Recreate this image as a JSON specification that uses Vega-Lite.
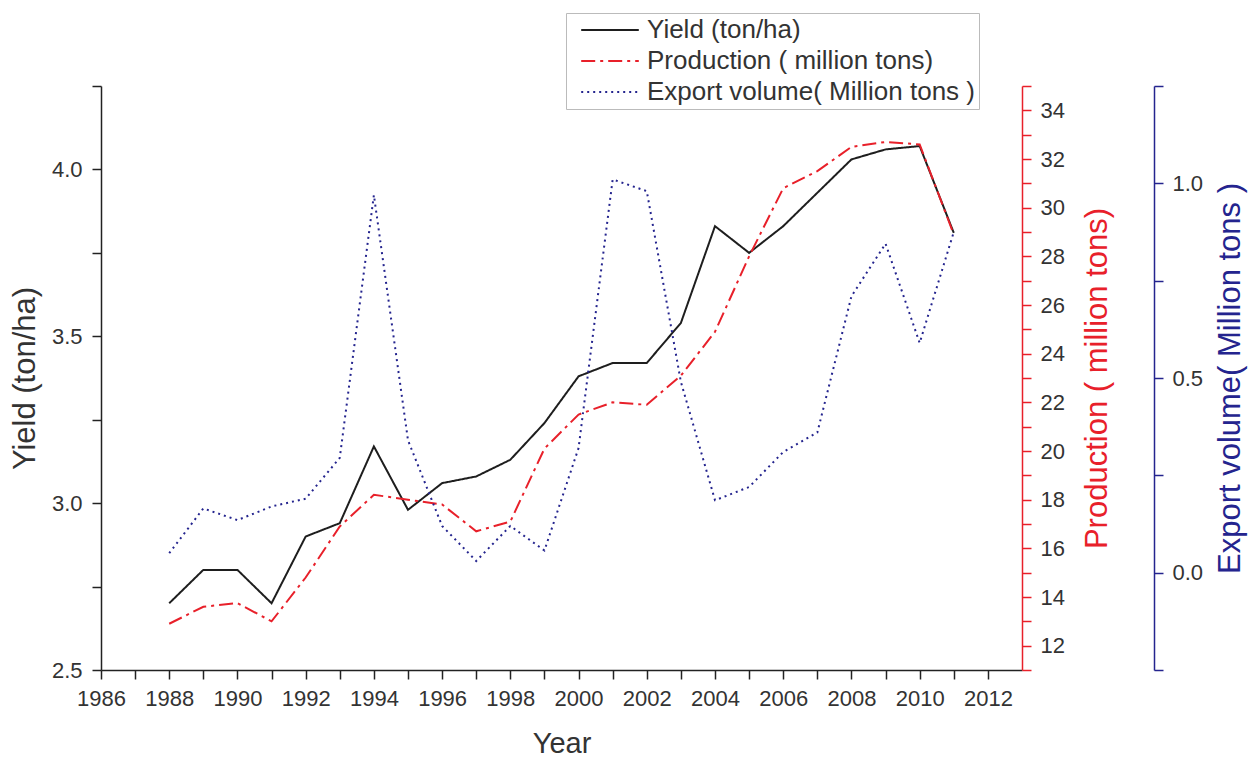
{
  "$schema": "https://vega.github.io/schema/vega-lite/v6.json",
  "width": 921,
  "height": 584,
  "autosize": {"type": "none"},
  "padding": {"left": 101, "top": 86, "right": 231, "bottom": 90},
  "background": "white",
  "config": {
    "font": "Liberation Sans",
    "view": {"stroke": null},
    "axis": {
      "grid": false,
      "labelFontSize": 22,
      "labelColor": "#333",
      "labelOverlap": false,
      "labelFlush": false,
      "titleFontSize": 31,
      "titleFontWeight": "normal",
      "titleColor": "#333",
      "domainWidth": 1.5,
      "tickWidth": 1.5,
      "tickSize": 9
    }
  },
  "data": {
    "values": [
      {"year": 1988, "series": "Yield (ton/ha)", "value": 2.70},
      {"year": 1989, "series": "Yield (ton/ha)", "value": 2.80},
      {"year": 1990, "series": "Yield (ton/ha)", "value": 2.80},
      {"year": 1991, "series": "Yield (ton/ha)", "value": 2.70},
      {"year": 1992, "series": "Yield (ton/ha)", "value": 2.90},
      {"year": 1993, "series": "Yield (ton/ha)", "value": 2.94},
      {"year": 1994, "series": "Yield (ton/ha)", "value": 3.17},
      {"year": 1995, "series": "Yield (ton/ha)", "value": 2.98},
      {"year": 1996, "series": "Yield (ton/ha)", "value": 3.06},
      {"year": 1997, "series": "Yield (ton/ha)", "value": 3.08},
      {"year": 1998, "series": "Yield (ton/ha)", "value": 3.13},
      {"year": 1999, "series": "Yield (ton/ha)", "value": 3.24},
      {"year": 2000, "series": "Yield (ton/ha)", "value": 3.38},
      {"year": 2001, "series": "Yield (ton/ha)", "value": 3.42},
      {"year": 2002, "series": "Yield (ton/ha)", "value": 3.42},
      {"year": 2003, "series": "Yield (ton/ha)", "value": 3.54},
      {"year": 2004, "series": "Yield (ton/ha)", "value": 3.83},
      {"year": 2005, "series": "Yield (ton/ha)", "value": 3.75},
      {"year": 2006, "series": "Yield (ton/ha)", "value": 3.83},
      {"year": 2007, "series": "Yield (ton/ha)", "value": 3.93},
      {"year": 2008, "series": "Yield (ton/ha)", "value": 4.03},
      {"year": 2009, "series": "Yield (ton/ha)", "value": 4.06},
      {"year": 2010, "series": "Yield (ton/ha)", "value": 4.07},
      {"year": 2011, "series": "Yield (ton/ha)", "value": 3.81},
      {"year": 1988, "series": "Production ( million tons)", "value": 12.9},
      {"year": 1989, "series": "Production ( million tons)", "value": 13.6},
      {"year": 1990, "series": "Production ( million tons)", "value": 13.75},
      {"year": 1991, "series": "Production ( million tons)", "value": 13.0},
      {"year": 1992, "series": "Production ( million tons)", "value": 14.8},
      {"year": 1993, "series": "Production ( million tons)", "value": 16.9},
      {"year": 1994, "series": "Production ( million tons)", "value": 18.2},
      {"year": 1995, "series": "Production ( million tons)", "value": 18.0},
      {"year": 1996, "series": "Production ( million tons)", "value": 17.8},
      {"year": 1997, "series": "Production ( million tons)", "value": 16.7},
      {"year": 1998, "series": "Production ( million tons)", "value": 17.1},
      {"year": 1999, "series": "Production ( million tons)", "value": 20.1},
      {"year": 2000, "series": "Production ( million tons)", "value": 21.5},
      {"year": 2001, "series": "Production ( million tons)", "value": 22.0},
      {"year": 2002, "series": "Production ( million tons)", "value": 21.9},
      {"year": 2003, "series": "Production ( million tons)", "value": 23.1},
      {"year": 2004, "series": "Production ( million tons)", "value": 24.9},
      {"year": 2005, "series": "Production ( million tons)", "value": 28.0},
      {"year": 2006, "series": "Production ( million tons)", "value": 30.8},
      {"year": 2007, "series": "Production ( million tons)", "value": 31.5},
      {"year": 2008, "series": "Production ( million tons)", "value": 32.5},
      {"year": 2009, "series": "Production ( million tons)", "value": 32.7},
      {"year": 2010, "series": "Production ( million tons)", "value": 32.6},
      {"year": 2011, "series": "Production ( million tons)", "value": 28.9},
      {"year": 1988, "series": "Export volume( Million tons )", "value": 0.05},
      {"year": 1989, "series": "Export volume( Million tons )", "value": 0.165},
      {"year": 1990, "series": "Export volume( Million tons )", "value": 0.135},
      {"year": 1991, "series": "Export volume( Million tons )", "value": 0.17},
      {"year": 1992, "series": "Export volume( Million tons )", "value": 0.19},
      {"year": 1993, "series": "Export volume( Million tons )", "value": 0.295},
      {"year": 1994, "series": "Export volume( Million tons )", "value": 0.97},
      {"year": 1995, "series": "Export volume( Million tons )", "value": 0.34},
      {"year": 1996, "series": "Export volume( Million tons )", "value": 0.12},
      {"year": 1997, "series": "Export volume( Million tons )", "value": 0.03},
      {"year": 1998, "series": "Export volume( Million tons )", "value": 0.12},
      {"year": 1999, "series": "Export volume( Million tons )", "value": 0.057},
      {"year": 2000, "series": "Export volume( Million tons )", "value": 0.32},
      {"year": 2001, "series": "Export volume( Million tons )", "value": 1.01},
      {"year": 2002, "series": "Export volume( Million tons )", "value": 0.98},
      {"year": 2003, "series": "Export volume( Million tons )", "value": 0.49},
      {"year": 2004, "series": "Export volume( Million tons )", "value": 0.186},
      {"year": 2005, "series": "Export volume( Million tons )", "value": 0.22},
      {"year": 2006, "series": "Export volume( Million tons )", "value": 0.31},
      {"year": 2007, "series": "Export volume( Million tons )", "value": 0.36},
      {"year": 2008, "series": "Export volume( Million tons )", "value": 0.71},
      {"year": 2009, "series": "Export volume( Million tons )", "value": 0.845},
      {"year": 2010, "series": "Export volume( Million tons )", "value": 0.59},
      {"year": 2011, "series": "Export volume( Million tons )", "value": 0.875}
    ]
  },
  "encoding": {
    "x": {
      "field": "year",
      "type": "quantitative",
      "scale": {"domain": [1986, 2013], "nice": false, "zero": false},
      "axis": {
        "title": "Year",
        "titleFontSize": 29,
        "values": [1986, 1987, 1988, 1989, 1990, 1991, 1992, 1993, 1994, 1995, 1996, 1997, 1998, 1999, 2000, 2001, 2002, 2003, 2004, 2005, 2006, 2007, 2008, 2009, 2010, 2011, 2012],
        "labelExpr": "datum.value % 2 == 0 ? datum.value : ''",
        "format": "d",
        "domainColor": "#222",
        "tickColor": "#222",
        "labelPadding": 9,
        "titlePadding": 20
      }
    },
    "color": {
      "field": "series",
      "type": "nominal",
      "scale": {
        "domain": ["Yield (ton/ha)", "Production ( million tons)", "Export volume( Million tons )"],
        "range": ["#1e1e1e", "#e8202a", "#24248e"]
      },
      "legend": {
        "title": null,
        "orient": "none",
        "legendX": 465,
        "legendY": -73,
        "symbolType": "M-2.4,0H2.4",
        "symbolSize": 576,
        "symbolStrokeWidth": 2,
        "symbolOffset": 27,
        "labelFontSize": 26,
        "labelColor": "#333",
        "labelOffset": 24,
        "labelLimit": 0,
        "rowPadding": 5,
        "padding": 4,
        "strokeColor": "#bbb",
        "fillColor": "white"
      }
    },
    "strokeDash": {
      "field": "series",
      "type": "nominal",
      "scale": {
        "domain": ["Yield (ton/ha)", "Production ( million tons)", "Export volume( Million tons )"],
        "range": [[1, 0], [14, 5, 3, 5], [2, 4]]
      },
      "legend": null
    }
  },
  "layer": [
    {
      "transform": [{"filter": "datum.series == 'Yield (ton/ha)'"}],
      "mark": {"type": "line", "strokeWidth": 2},
      "encoding": {
        "y": {
          "field": "value",
          "type": "quantitative",
          "scale": {"domain": [2.5, 4.25], "nice": false, "zero": false},
          "axis": {
            "orient": "left",
            "title": "Yield (ton/ha)",
            "values": [2.5, 2.75, 3.0, 3.25, 3.5, 3.75, 4.0, 4.25],
            "labelExpr": "(datum.value * 2) % 1 == 0 ? format(datum.value, '.1f') : ''",
            "domainColor": "#222",
            "tickColor": "#222",
            "labelPadding": 10,
            "titlePadding": 10
          }
        }
      }
    },
    {
      "transform": [{"filter": "datum.series == 'Production ( million tons)'"}],
      "mark": {"type": "line", "strokeWidth": 2},
      "encoding": {
        "y": {
          "field": "value",
          "type": "quantitative",
          "scale": {"domain": [11, 35], "nice": false, "zero": false},
          "axis": {
            "orient": "right",
            "title": "Production ( million tons)",
            "titleColor": "#e8202a",
            "titleAngle": 270,
            "titleX": 75,
            "titleY": 292,
            "titleAlign": "center",
            "titleBaseline": "middle",
            "values": [11, 12, 13, 14, 15, 16, 17, 18, 19, 20, 21, 22, 23, 24, 25, 26, 27, 28, 29, 30, 31, 32, 33, 34, 35],
            "labelExpr": "datum.value % 2 == 0 ? datum.value : ''",
            "domainColor": "#e8202a",
            "tickColor": "#e8202a",
            "labelPadding": 9
          }
        }
      }
    },
    {
      "transform": [{"filter": "datum.series == 'Export volume( Million tons )'"}],
      "mark": {"type": "line", "strokeWidth": 2, "strokeCap": "butt"},
      "encoding": {
        "y": {
          "field": "value",
          "type": "quantitative",
          "scale": {"domain": [-0.25, 1.25], "nice": false, "zero": false},
          "axis": {
            "orient": "right",
            "offset": 132,
            "title": "Export volume( Million tons )",
            "titleColor": "#24248e",
            "titleAngle": 270,
            "titleX": 76,
            "titleY": 292,
            "titleAlign": "center",
            "titleBaseline": "middle",
            "values": [-0.25, 0, 0.25, 0.5, 0.75, 1.0, 1.25],
            "labelExpr": "(datum.value * 2) % 1 == 0 ? format(datum.value, '.1f') : ''",
            "domainColor": "#24248e",
            "tickColor": "#24248e",
            "labelPadding": 9
          }
        }
      }
    }
  ],
  "resolve": {"scale": {"y": "independent"}}
}
